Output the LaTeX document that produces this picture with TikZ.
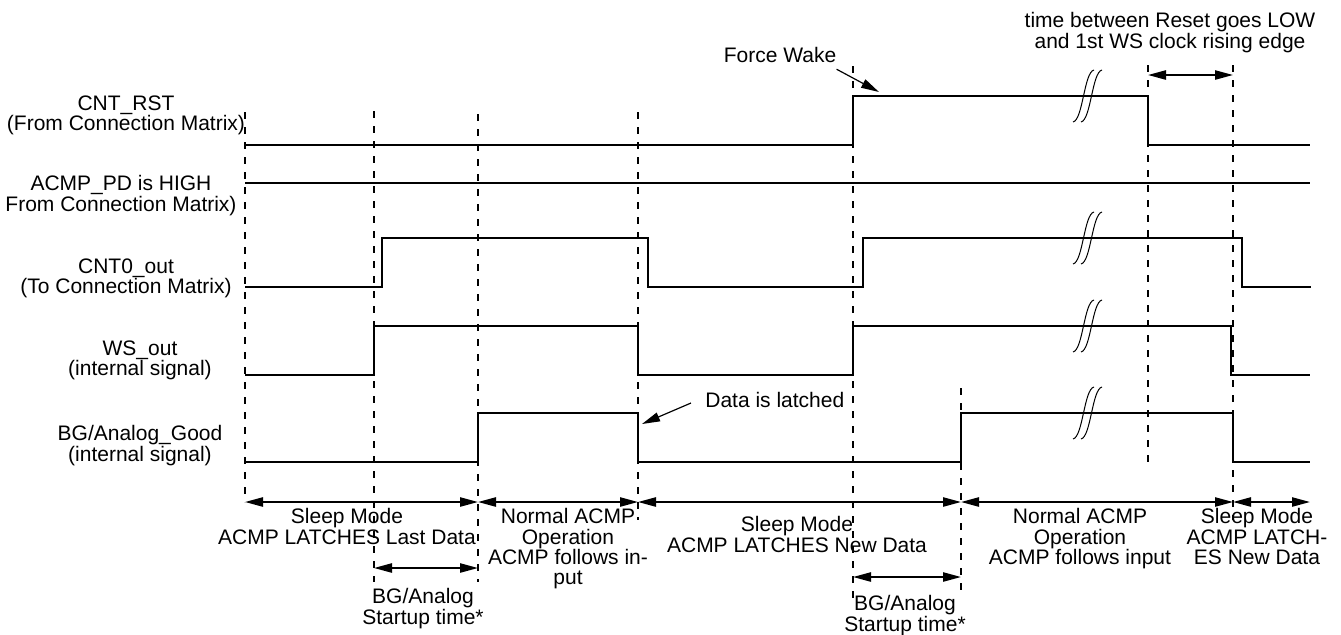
\documentclass[tikz,border=0pt]{standalone}
\usepackage{fontspec}
\setmainfont{Liberation Sans}
\usetikzlibrary{arrows.meta, positioning, calc}

\begin{document}
\begin{tikzpicture}[
    x=0.5pt, y=-0.5pt,
    sig/.style={line width=1.45pt, line join=miter},
    guide/.style={line width=1pt, dash pattern=on 3.5pt off 4pt},
    span/.style={{Triangle[length=9pt,width=4.6pt]}-{Triangle[length=9pt,width=4.6pt]}, line width=0.9pt},
    callout/.style={-{Triangle[length=9pt,width=4.6pt]}, line width=0.6pt},
    brk/.style={line width=0.5pt},
    txt/.style={align=center, inner sep=0pt, anchor=north, font=\fontsize{10.5}{10.2}\selectfont}
]
\useasboundingbox (0,0) rectangle (1341,634);

% time marks and rows
\coordinate (t0) at (245,0);
\coordinate (t1) at (374,0);
\coordinate (t2) at (478,0);
\coordinate (t3) at (638,0);
\coordinate (t4) at (853,0);
\coordinate (t5) at (961,0);
\coordinate (t6) at (1148,0);
\coordinate (t7) at (1233,0);
\coordinate (tend) at (1310,0);
\coordinate (r1) at (0,502);
\coordinate (r2) at (0,568);
\coordinate (r3) at (0,577);
\coordinate (rt) at (0,75);

% signal names
\node[txt] (rst) at (126,95) {CNT\_RST\\(From Connection Matrix)};
\node[txt] (pd) at (121,175) {ACMP\_PD is HIGH\\From Connection Matrix)};
\node[txt] (cnt) at (126,258) {CNT0\_out\\(To Connection Matrix)};
\node[txt] (ws) at (140,340) {WS\_out\\(internal signal)};
\node[txt] (bg) at (140,425) {BG/Analog\_Good\\(internal signal)};

% dashed guides
\foreach \x/\a/\b in {245/112/502, 374/111/582, 478/114/582, 638/112/520,
                      853/66/600, 961/388/590, 1148/65/465, 1233/65/520}
  \draw[guide] (\x,\a) -- (\x,\b);

% waveforms
\draw[sig] (245,145) -- (853,145) -- (853,96) -- (1148,96) -- (1148,145) -- (1310,145);
\draw[sig] (245,183) -- (1310,183);
\draw[sig] (245,287) -- (382,287) -- (382,238) -- (648,238) -- (648,287) -- (863,287)
  -- (863,238) -- (1242,238) -- (1242,287) -- (1311,287);
\draw[sig] (245,375) -- (374,375) -- (374,326) -- (638,326) -- (638,375) -- (853,375)
  -- (853,326) -- (1231,326) -- (1231,375) -- (1310,375);
\draw[sig] (245,462) -- (478,462) -- (478,413) -- (638,413) -- (638,462) -- (961,462)
  -- (961,413) -- (1233,413) -- (1233,462) -- (1310,462);

% breaks
\foreach \yy in {96,238,326,413}{
  \draw[brk] (1073,{\yy+26}) .. controls (1083,{\yy+24}) and (1084,{\yy-24}) .. (1094,{\yy-26});
  \draw[brk] (1081,{\yy+26}) .. controls (1091,{\yy+24}) and (1092,{\yy-24}) .. (1102,{\yy-26});
}

% annotations
\node[txt] (fw) at (780,47) {Force Wake};
\coordinate (fwtip) at (879,92);
\draw[callout] ([yshift=-3pt]fw.south east) -- (fwtip);

\node[txt] (tb) at (1170,12) {time between Reset goes LOW\\and 1st WS clock rising edge};
\draw[span] (t6 |- rt) -- (t7 |- rt);

\node[txt, anchor=west] (dl) at (705,400) {Data is latched};
\coordinate (dltip) at (642,424);
\draw[callout] ([xshift=-7pt,yshift=-1.5pt]dl.west) -- (dltip);

% phases
\draw[span] (t0 |- r1) -- (t2 |- r1);
\draw[span] (t2 |- r1) -- (t3 |- r1);
\draw[span] (t3 |- r1) -- (t5 |- r1);
\draw[span] (t5 |- r1) -- (t7 |- r1);
\draw[span] (t7 |- r1) -- (tend |- r1);
\draw[span] (t1 |- r2) -- (t2 |- r2);
\draw[span] (t4 |- r3) -- (t5 |- r3);

\node[txt] (sl1) at (347,508) {Sleep Mode\\ACMP LATCHES Last Data};
\node[txt] (nm1) at (568,508) {Normal ACMP\\Operation\\ACMP follows in-\\put};
\node[txt] (sl2) at (797,516) {Sleep Mode\\ACMP LATCHES New Data};
\node[txt] (nm2) at (1080,508) {Normal ACMP\\Operation\\ACMP follows input};
\node[txt] (sl3) at (1257,508) {Sleep Mode\\ACMP LATCH-\\ES New Data};
\node[txt] (bg1) at (423,588) {BG/Analog\\Startup time*};
\node[txt] (bg2) at (905,595) {BG/Analog\\Startup time*};

\end{tikzpicture}
\end{document}
